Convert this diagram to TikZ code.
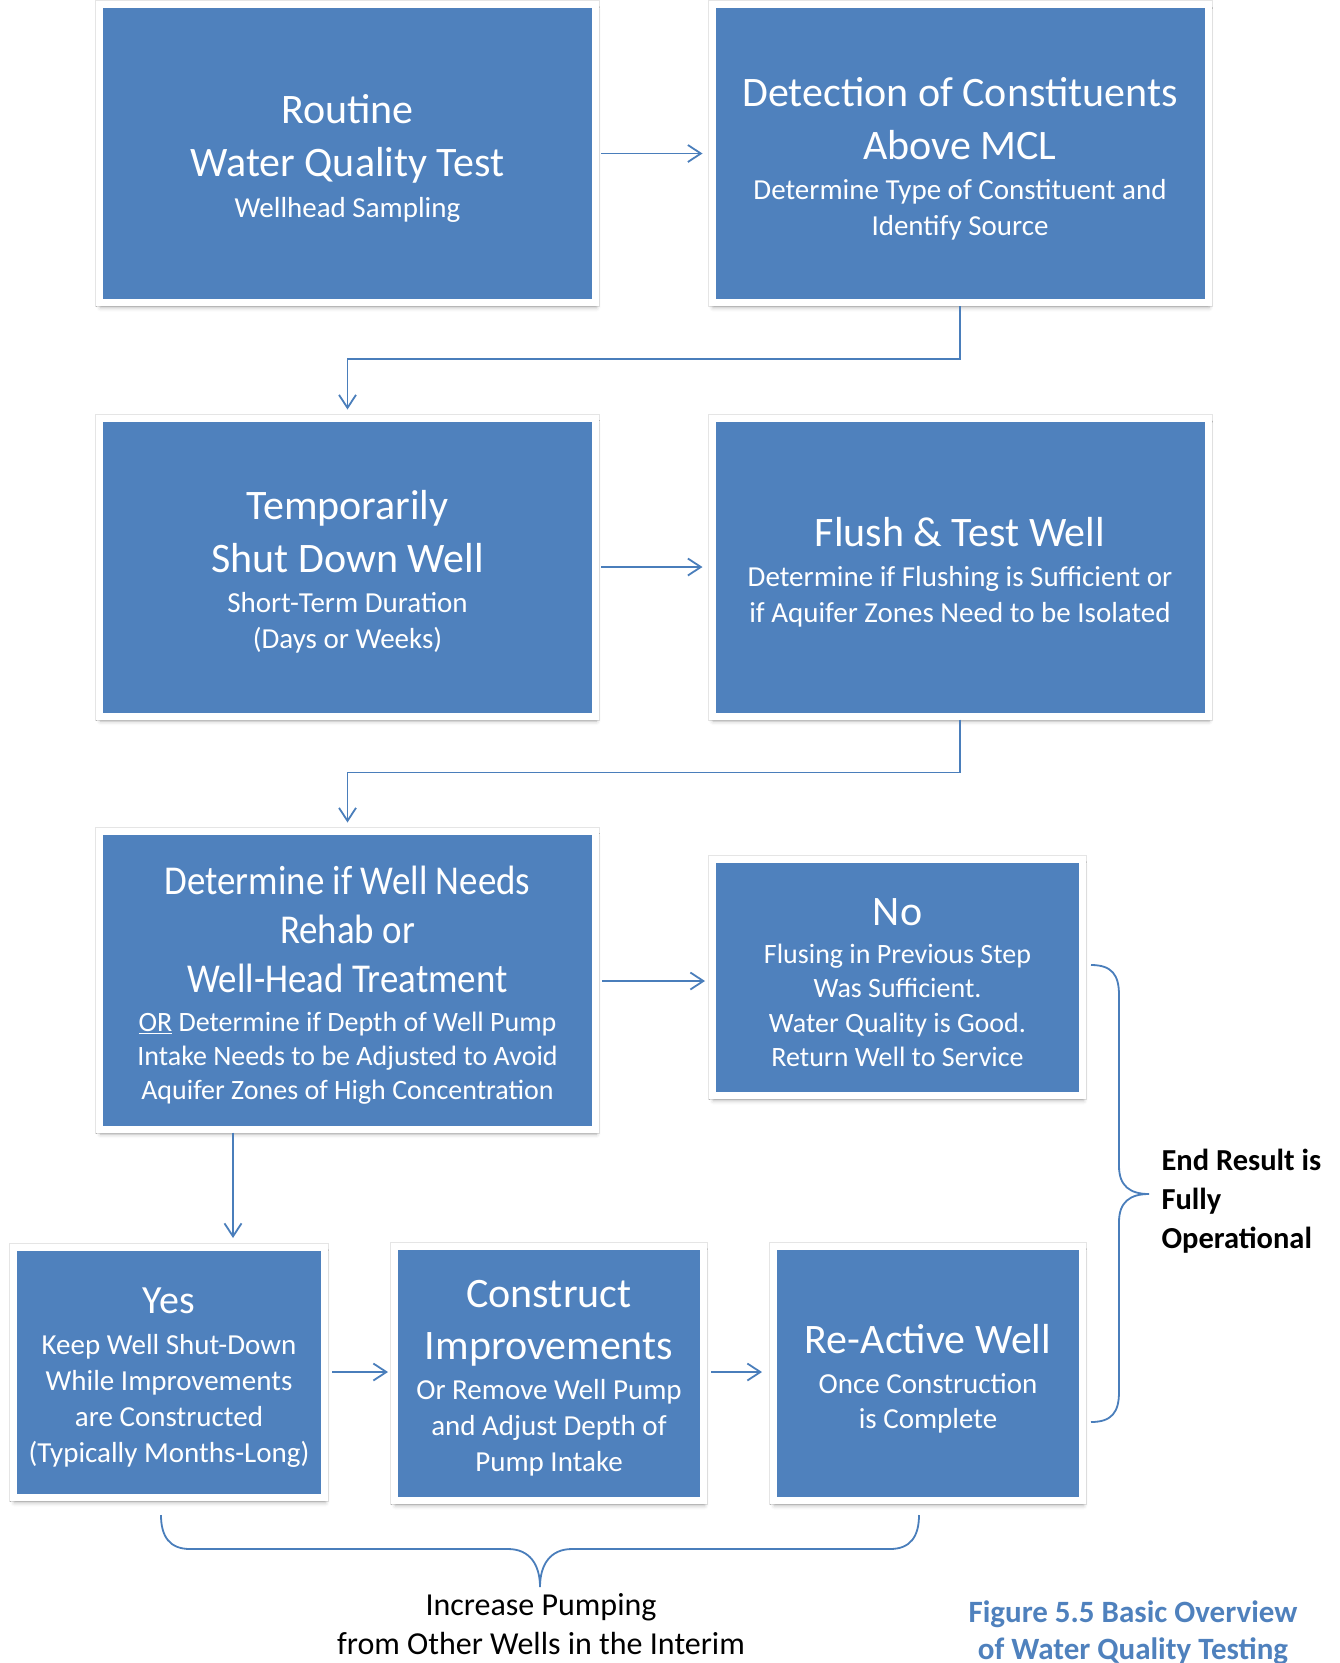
\documentclass[tikz,border=0pt]{standalone}
\usepackage{fontspec}
\setmainfont{Carlito}
\newfontfamily\condfont{Carlito}[FakeStretch=0.9]
\usetikzlibrary{arrows.meta,shadows.blur}
\definecolor{boxblue}{RGB}{79,129,189}
\definecolor{lineblue}{RGB}{74,126,187}
\newcommand{\ttl}{\fontsize{42pt}{53pt}\selectfont}
\newcommand{\sbt}{\fontsize{29pt}{36pt}\selectfont}
\newcommand{\boxtxt}[2]{\parbox{#1}{\centering\vspace*{10pt}#2}}
\newcommand{\bxt}[2]{\boxtxt{470pt}{{\ttl #1\par}\vspace{4.3pt}{\sbt #2\par}}}
\tikzset{
  stepbox/.style={fill=boxblue, draw=white, line width=7pt, text=white, inner sep=0pt,
    preaction={draw=black!10, line width=9pt},
    blur shadow={shadow xshift=1pt, shadow yshift=-5pt, shadow blur radius=4pt, shadow opacity=30}},
  bigbox/.style={stepbox, minimum width=496pt, minimum height=298pt},
  conn/.style={draw=lineblue, line width=1.8pt, -{Straight Barb[length=13pt,width=17pt,line width=1.8pt]}},
  brace/.style={draw=lineblue, line width=1.8pt},
}
\begin{document}
\begin{tikzpicture}[x=1pt,y=-1pt]
\useasboundingbox (0,0) rectangle (1340,1663);
% row 1
\node[bigbox] (b1) at (347.5,153.5) {\bxt{Routine\\Water Quality Test}{Wellhead Sampling}};
\node[bigbox] (b2) at (960,153.5) {\bxt{Detection of Constituents\\Above MCL}{Determine Type of Constituent and\\Identify Source}};
% row 2
\node[bigbox] (b3) at (347.5,567) {\bxt{Temporarily\\Shut Down Well}{Short-Term Duration\\(Days or Weeks)}};
\node[bigbox] (b4) at (960,567) {\bxt{Flush \& Test Well}{Determine if Flushing is Sufficient or\\if Aquifer Zones Need to be Isolated}};
% row 3
\node[bigbox] (b5) at (347.5,980) {\boxtxt{475pt}{{\condfont\fontsize{41pt}{49pt}\selectfont Determine if Well Needs\\Rehab or\\Well-Head Treatment\par}\vspace{5pt}{\fontsize{28pt}{34pt}\selectfont \underline{OR} Determine if Depth of Well Pump\\Intake Needs to be Adjusted to Avoid\\Aquifer Zones of High Concentration\par}}};
\node[stepbox, minimum width=370pt, minimum height=236pt] (b6) at (897.5,977.5)
  {\boxtxt{350pt}{{\ttl No\par}\vspace{4pt}{\fontsize{28pt}{34.3pt}\selectfont Flusing in Previous Step\\Was Sufficient.\\Water Quality is Good.\\Return Well to Service\par}}};
% row 4
\node[stepbox, minimum width=311pt, minimum height=250pt] (yes) at (169,1372.5)
  {\boxtxt{300pt}{{\fontsize{40pt}{50pt}\selectfont Yes\par}\vspace{4.3pt}{\sbt Keep Well Shut-Down\\While Improvements\\are Constructed\\(Typically Months-Long)\par}}};
\node[stepbox, minimum width=309pt, minimum height=254pt] (cons) at (549,1373.5)
  {\boxtxt{298pt}{{\fontsize{42pt}{52pt}\selectfont Construct\\Improvements\par}\vspace{4.3pt}{\sbt Or Remove Well Pump\\and Adjust Depth of\\Pump Intake\par}}};
\node[stepbox, minimum width=309pt, minimum height=254pt] (react) at (928,1373.5)
  {\boxtxt{298pt}{{\ttl Re-Active Well\par}\vspace{5pt}{\fontsize{29pt}{35pt}\selectfont Once Construction\\is Complete\par}}};
% connectors
\draw[conn, shorten <=2pt, shorten >=6pt] (b1.east) -- (b2.west |- b1.east);
\draw[conn, shorten >=5pt] (b2.south) -- ++(0,53) -| (b3.north);
\draw[conn, shorten <=2pt, shorten >=6pt] (b3.east) -- (b4.west |- b3.east);
\draw[conn, shorten >=5pt] (b4.south) -- ++(0,53) -| (b5.north);
\draw[conn, shorten <=3pt, shorten >=4pt] (b5.east |- 0,981) -- (b6.west |- 0,981);
\coordinate (yesin) at (233,1240);
\draw[conn, shorten >=6pt] (b5.south -| yesin) -- (yesin |- yes.north);
\draw[conn, shorten <=4pt, shorten >=3pt] (yes.east |- 0,1372) -- (cons.west |- 0,1372);
\draw[conn, shorten <=4pt, shorten >=8pt] (cons.east |- 0,1372) -- (react.west |- 0,1372);
% right brace
\coordinate (rb1) at (1091,965);
\coordinate (rb2) at (1091,1422);
\coordinate (rbt) at (1149,1194);
\draw[brace] (rb1) .. controls (1112,965) and (1119,975) .. (1119,995)
  -- (1119,1166) .. controls (1119,1186) and (1130,1194) .. (rbt)
  .. controls (1130,1194) and (1119,1202) .. (1119,1222)
  -- (1119,1392) .. controls (1119,1412) and (1112,1422) .. (rb2);
\node[anchor=west, align=left, font={\fontsize{30.5pt}{39pt}\selectfont\bfseries}] (endres) at (1158,1201) {End Result is\\Fully\\Operational};
% bottom brace
\coordinate (bb1) at (161,1515);
\coordinate (bb2) at (919,1515);
\coordinate (bbt) at (540,1587);
\draw[brace] (bb1) .. controls (161,1537) and (170,1549) .. (190,1549)
  -- (508,1549) .. controls (530,1549) and (540,1565) .. (bbt)
  .. controls (540,1565) and (550,1549) .. (572,1549)
  -- (890,1549) .. controls (910,1549) and (919,1537) .. (bb2);
\node[align=center, font={\fontsize{32pt}{39pt}\selectfont}] (interim) at (541,1624) {Increase Pumping\\from Other Wells in the Interim};
% caption
\node[align=center, text=boxblue, font={\fontsize{31pt}{37pt}\selectfont\bfseries}] (cap) at (1133,1633) {Figure 5.5 Basic Overview\\of Water Quality Testing};
\end{tikzpicture}
\end{document}
